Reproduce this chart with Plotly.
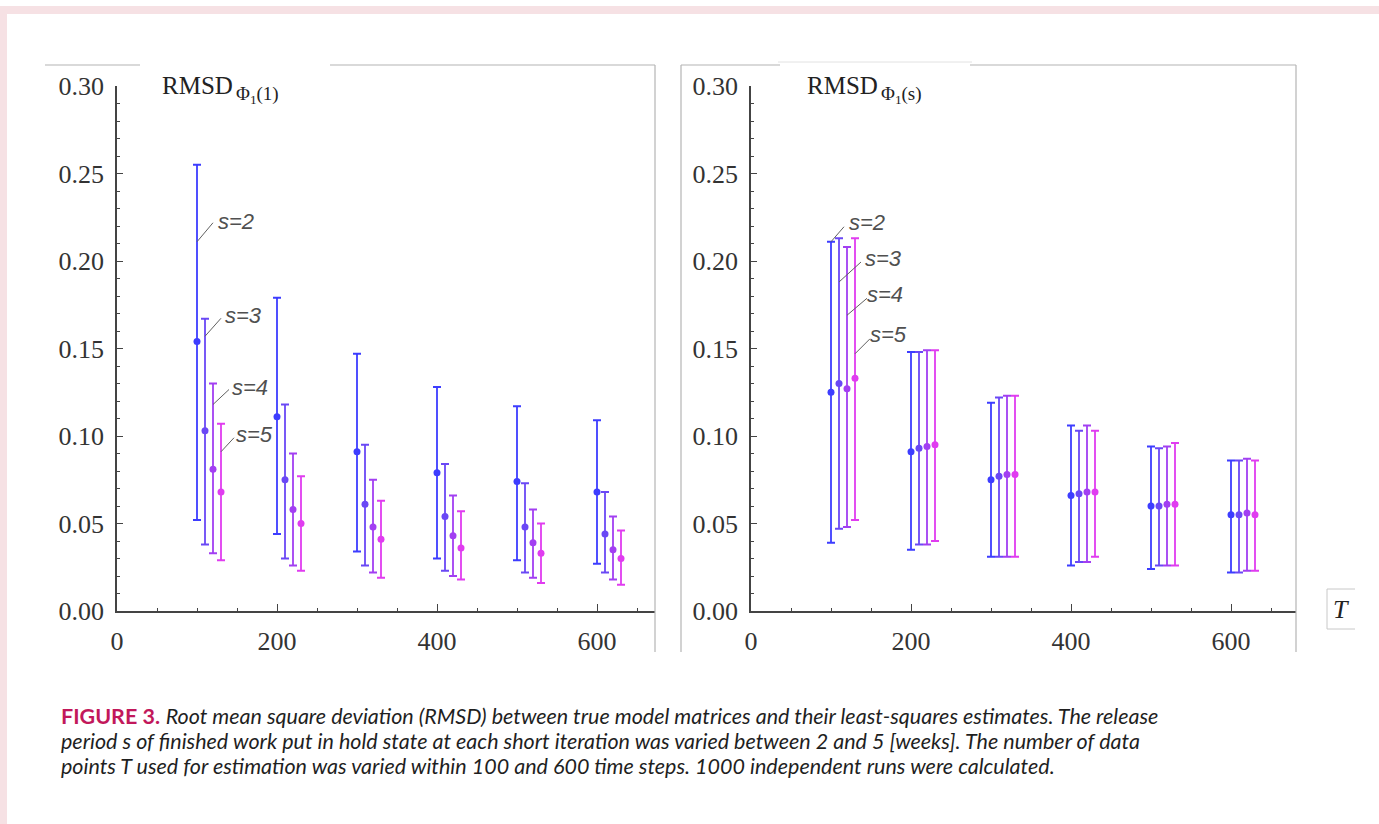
import plotly.graph_objects as go

W, H = 1379, 824

# ---------------- data ----------------
T_values = [100, 200, 300, 400, 500, 600]
s_labels = ["s=2", "s=3", "s=4", "s=5"]
s_offsets = [0, 10, 20, 30]
colors = ["#3d3dff", "#6a48f5", "#a23ff2", "#e03cf0"]

# left panel: RMSD Phi1(1)
left_mean = {
    "s=2": [0.154, 0.111, 0.091, 0.079, 0.074, 0.068],
    "s=3": [0.103, 0.075, 0.061, 0.054, 0.048, 0.044],
    "s=4": [0.081, 0.058, 0.048, 0.043, 0.039, 0.035],
    "s=5": [0.068, 0.050, 0.041, 0.036, 0.033, 0.030],
}
left_hi = {
    "s=2": [0.255, 0.179, 0.147, 0.128, 0.117, 0.109],
    "s=3": [0.167, 0.118, 0.095, 0.084, 0.073, 0.068],
    "s=4": [0.130, 0.090, 0.075, 0.066, 0.058, 0.054],
    "s=5": [0.107, 0.077, 0.063, 0.057, 0.050, 0.046],
}
left_lo = {
    "s=2": [0.052, 0.044, 0.034, 0.030, 0.029, 0.027],
    "s=3": [0.038, 0.030, 0.026, 0.023, 0.022, 0.022],
    "s=4": [0.033, 0.026, 0.022, 0.020, 0.019, 0.018],
    "s=5": [0.029, 0.023, 0.019, 0.018, 0.016, 0.015],
}

# right panel: RMSD Phi1(s)
right_mean = {
    "s=2": [0.125, 0.091, 0.075, 0.066, 0.060, 0.055],
    "s=3": [0.130, 0.093, 0.077, 0.067, 0.060, 0.055],
    "s=4": [0.127, 0.094, 0.078, 0.068, 0.061, 0.056],
    "s=5": [0.133, 0.095, 0.078, 0.068, 0.061, 0.055],
}
right_hi = {
    "s=2": [0.211, 0.148, 0.119, 0.106, 0.094, 0.086],
    "s=3": [0.213, 0.148, 0.122, 0.103, 0.093, 0.086],
    "s=4": [0.208, 0.149, 0.123, 0.106, 0.094, 0.087],
    "s=5": [0.213, 0.149, 0.123, 0.103, 0.096, 0.086],
}
right_lo = {
    "s=2": [0.039, 0.035, 0.031, 0.026, 0.024, 0.022],
    "s=3": [0.047, 0.038, 0.031, 0.028, 0.026, 0.022],
    "s=4": [0.048, 0.038, 0.031, 0.028, 0.026, 0.023],
    "s=5": [0.052, 0.040, 0.031, 0.031, 0.026, 0.023],
}

y_ticks = [0.00, 0.05, 0.10, 0.15, 0.20, 0.25, 0.30]
x_ticks = [0, 200, 400, 600]

caption_lines = [
    "<span style='color:#c2185b'><b>FIGURE 3.</b></span> "
    "<i>Root mean square deviation (RMSD) between true model matrices and their least-squares estimates. The release</i>",
    "<i>period s of finished work put in hold state at each short iteration was varied between 2 and 5 [weeks]. The number of data</i>",
    "<i>points T used for estimation was varied within 100 and 600 time steps. 1000 independent runs were calculated.</i>",
]

# ---------------- helpers ----------------
def px(x):
    return x / W

def py(y):
    return 1 - y / H

fig = go.Figure()

panels = [
    ("x", "y", left_mean, left_hi, left_lo),
    ("x2", "y2", right_mean, right_hi, right_lo),
]
for xa, ya, mean, hi, lo in panels:
    for s, off, col in zip(s_labels, s_offsets, colors):
        xs = [t + off for t in T_values]
        m = mean[s]
        up = [h - v for h, v in zip(hi[s], m)]
        dn = [v - l for v, l in zip(m, lo[s])]
        fig.add_trace(go.Scatter(
            x=xs, y=m, mode="markers", xaxis=xa, yaxis=ya,
            marker=dict(color=col, size=7),
            error_y=dict(type="data", symmetric=False, array=up, arrayminus=dn,
                         color=col, thickness=1.8, width=4),
            showlegend=False, hoverinfo="x+y", name=s,
        ))

tickfont = dict(family="Liberation Serif, Times New Roman, serif", size=26, color="#333333")
axis_common = dict(showgrid=False, zeroline=False, showline=True, linecolor="#444444",
                   linewidth=1.5, ticks="inside", tickcolor="#444444", tickfont=tickfont,
                   ticklabelstandoff=6, automargin=False)

ydom = [py(611), py(86)]
fig.update_layout(
    width=W, height=H, margin=dict(l=0, r=0, t=0, b=0, pad=0, autoexpand=False),
    paper_bgcolor="white", plot_bgcolor="white", showlegend=False,
    xaxis=dict(domain=[px(117), px(655)], range=[0, 672.5], tickvals=x_ticks, ticklen=7,
               minor=dict(dtick=50, tick0=0, ticks="inside", ticklen=3, tickcolor="#444444"),
               anchor="y", **axis_common),
    yaxis=dict(domain=ydom, range=[0, 0.30], tickvals=y_ticks, tickformat=".2f", ticklen=6,
               minor=dict(dtick=0.01, tick0=0, ticks="inside", ticklen=3, tickcolor="#444444"),
               anchor="x", **axis_common),
    xaxis2=dict(domain=[px(751), px(1296)], range=[0, 681.25], tickvals=x_ticks, ticklen=7,
                minor=dict(dtick=50, tick0=0, ticks="inside", ticklen=3, tickcolor="#444444"),
                anchor="y2", **axis_common),
    yaxis2=dict(domain=ydom, range=[0, 0.30], tickvals=y_ticks, tickformat=".2f", ticklen=6,
                minor=dict(dtick=0.01, tick0=0, ticks="inside", ticklen=3, tickcolor="#444444"),
                anchor="x2", **axis_common),
)

shapes = []
frame = dict(color="#b4b4b4", width=1.2)
pink = "#f6e1e4"
# outer pinkish page frame
shapes.append(dict(type="rect", xref="paper", yref="paper", x0=0, x1=1, y0=py(14), y1=py(6),
                   fillcolor=pink, line=dict(width=0), layer="below"))
shapes.append(dict(type="rect", xref="paper", yref="paper", x0=0, x1=px(7), y0=0, y1=py(6),
                   fillcolor=pink, line=dict(width=0), layer="below"))
# left panel frame (top with gap for title, right side)
for x0, x1 in [(45, 140), (330, 655)]:
    shapes.append(dict(type="line", xref="paper", yref="paper", x0=px(x0), x1=px(x1),
                       y0=py(65), y1=py(65), line=frame))
shapes.append(dict(type="line", xref="paper", yref="paper", x0=px(655), x1=px(655),
                   y0=py(65), y1=py(652), line=frame))
# right panel frame
for x0, x1 in [(681, 780), (970, 1296)]:
    shapes.append(dict(type="line", xref="paper", yref="paper", x0=px(x0), x1=px(x1),
                       y0=py(65), y1=py(65), line=frame))
shapes.append(dict(type="line", xref="paper", yref="paper", x0=px(778), x1=px(972),
                   y0=py(62), y1=py(62), line=dict(color="#e2e2e2", width=1)))
for x in (681, 1296):
    shapes.append(dict(type="line", xref="paper", yref="paper", x0=px(x), x1=px(x),
                       y0=py(65), y1=py(652), line=frame))
# T label box (left, top, bottom)
for (x0, y0, x1, y1) in [(1327, 589, 1327, 629), (1327, 589, 1355, 589), (1327, 629, 1355, 629)]:
    shapes.append(dict(type="line", xref="paper", yref="paper", x0=px(x0), x1=px(x1),
                       y0=py(y0), y1=py(y1), line=dict(color="#c8c8c8", width=1)))

annotations = []
labfont = dict(family="Liberation Sans, Arial, sans-serif", size=22, color="#505050")
# leader lines + s labels: (panel, series index, y on bar, tail dx, tail dy (px, up positive), text dx, text dy)
leaders = [
    ("x", "y", 0, 0.211, 16, 19, 19, 20),
    ("x", "y", 1, 0.157, 16, 18, 18, 21),
    ("x", "y", 2, 0.118, 16, 15, 17, 17),
    ("x", "y", 3, 0.091, 13, 14, 13, 17),
    ("x2", "y2", 0, 0.211, 13, 15, 16, 19),
    ("x2", "y2", 1, 0.188, 22, 20, 24, 23),
    ("x2", "y2", 2, 0.169, 20, 17, 18, 21),
    ("x2", "y2", 3, 0.147, 15, 15, 13, 19),
]
for xa, ya, i, yv, tdx, tdy, ldx, ldy in leaders:
    xv = T_values[0] + s_offsets[i]
    shapes.append(dict(type="line", xref=xa, yref=ya, xsizemode="pixel", ysizemode="pixel",
                       xanchor=xv, yanchor=yv, x0=0, x1=tdx, y0=0, y1=tdy,
                       line=dict(color="#606060", width=1)))
    annotations.append(dict(x=xv, y=yv, xref=xa, yref=ya, text="<i>" + s_labels[i] + "</i>",
                            showarrow=False, xanchor="left", yanchor="middle",
                            xshift=ldx, yshift=ldy, font=labfont))

serif = "Liberation Serif, Times New Roman, serif"
# panel titles
for x_r, x_s, sub in [(160, 234, "(1)"), (805, 879, "(s)")]:
    annotations.append(dict(x=px(x_r), y=py(86), xref="paper", yref="paper", text="RMSD",
                            showarrow=False, xanchor="left", yanchor="middle",
                            font=dict(family=serif, size=25, color="#222222")))
    annotations.append(dict(x=px(x_s), y=py(95), xref="paper", yref="paper",
                            text="Φ<sub>1</sub>" + sub,
                            showarrow=False, xanchor="left", yanchor="middle",
                            font=dict(family=serif, size=19, color="#222222")))
# T axis label
annotations.append(dict(x=px(1341), y=py(609), xref="paper", yref="paper", text="<i>T</i>",
                        showarrow=False, xanchor="center", yanchor="middle",
                        font=dict(family=serif, size=26, color="#222222")))
# caption, one annotation per line
for k, line in enumerate(caption_lines):
    annotations.append(dict(x=px(60), y=py(716 + 25 * k), xref="paper", yref="paper", text=line,
                            showarrow=False, xanchor="left", yanchor="middle", align="left",
                            borderpad=0,
                            font=dict(family="Lato, Open Sans, sans-serif", size=21.5, color="#1f1f1f")))

fig.update_layout(shapes=shapes, annotations=annotations)
fig.write_html("out.html", config={"displayModeBar": False},
               post_script="document.body.style.margin='0';document.body.style.overflow='hidden';")
